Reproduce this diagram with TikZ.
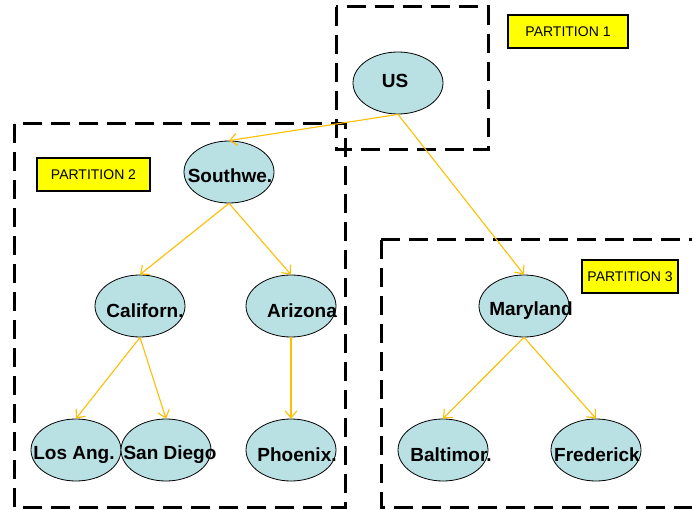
\documentclass[tikz,border=0pt]{standalone}
\usepackage{fontspec}
\setmainfont{Liberation Sans}
\usetikzlibrary{shapes.geometric,arrows.meta}
\definecolor{nodefill}{RGB}{185,224,227}
\definecolor{edgecol}{RGB}{255,190,0}
\definecolor{partyellow}{RGB}{255,255,0}
\tikzset{
  city/.style={ellipse,draw=black,line width=0.8pt,fill=nodefill,minimum width=90pt,minimum height=62pt,inner sep=0pt},
  ctext/.style={inner sep=0pt,font=\fontsize{19}{21}\selectfont\bfseries},
  link/.style={draw=edgecol,line width=1.1pt,-{Straight Barb[length=7pt,width=12pt]}},
  partbox/.style={draw=black,dash pattern=on 19pt off 9pt,line width=3pt},
  plabel/.style={draw=black,line width=1.2pt,fill=partyellow,minimum height=33pt,inner sep=0pt,font=\fontsize{14}{16}\selectfont}
}
\begin{document}
\begin{tikzpicture}[x=1pt,y=-1pt]
\useasboundingbox (0,0) rectangle (692,510);
% partition boxes
\draw[partbox] (336,7) rectangle (488,150);
\draw[partbox] (14,124) rectangle (345,507);
\draw[partbox] (381,240) -- (700,240) (381,240) -- (381,507) -- (700,507);
% partition labels
\node[plabel,minimum width=120pt] (p1) at (568,31.5) {PARTITION 1};
\node[plabel,minimum width=113pt] (p2) at (93.5,174.5) {PARTITION 2};
\node[plabel,minimum width=96pt] (p3) at (630,276.5) {PARTITION 3};
% ellipses
\node[city] (us) at (398,83) {};
\node[city] (sw) at (229,172) {};
\node[city] (ca) at (140,306) {};
\node[city] (az) at (291,306) {};
\node[city] (la) at (76,450) {};
\node[city] (sd) at (166,450) {};
\node[city] (ph) at (291,450) {};
\node[city] (md) at (524,306) {};
\node[city] (ba) at (443,450) {};
\node[city] (fr) at (596,450) {};
% texts
\node[ctext] (ust) at (395,81) {US};
\node[ctext] (swt) at (230,176) {Southwe.};
\node[ctext] (cat) at (145,311) {Californ.};
\node[ctext] (azt) at (302,311) {Arizona};
\node[ctext] (lat) at (74,455) {Los Ang.};
\node[ctext] (sdt) at (170,455) {San Diego};
\node[ctext] (pht) at (297,455) {Phoenix.};
\node[ctext] (mdt) at (531,311) {Maryland};
\node[ctext] (bat) at (451,455) {Baltimor.};
\node[ctext] (frt) at (597,455) {Frederick};
% connectors
\draw[link] (us.south) -- (sw.north);
\draw[link] (us.south) -- (md.north);
\draw[link] (sw.south) -- (ca.north);
\draw[link] (sw.south) -- (az.north);
\draw[link] (ca.south) -- (la.north);
\draw[link] (ca.south) -- (sd.north);
\draw[link] (az.south) -- (ph.north);
\draw[link] (md.south) -- (ba.north);
\draw[link] (md.south) -- (fr.north);
\end{tikzpicture}
\end{document}
